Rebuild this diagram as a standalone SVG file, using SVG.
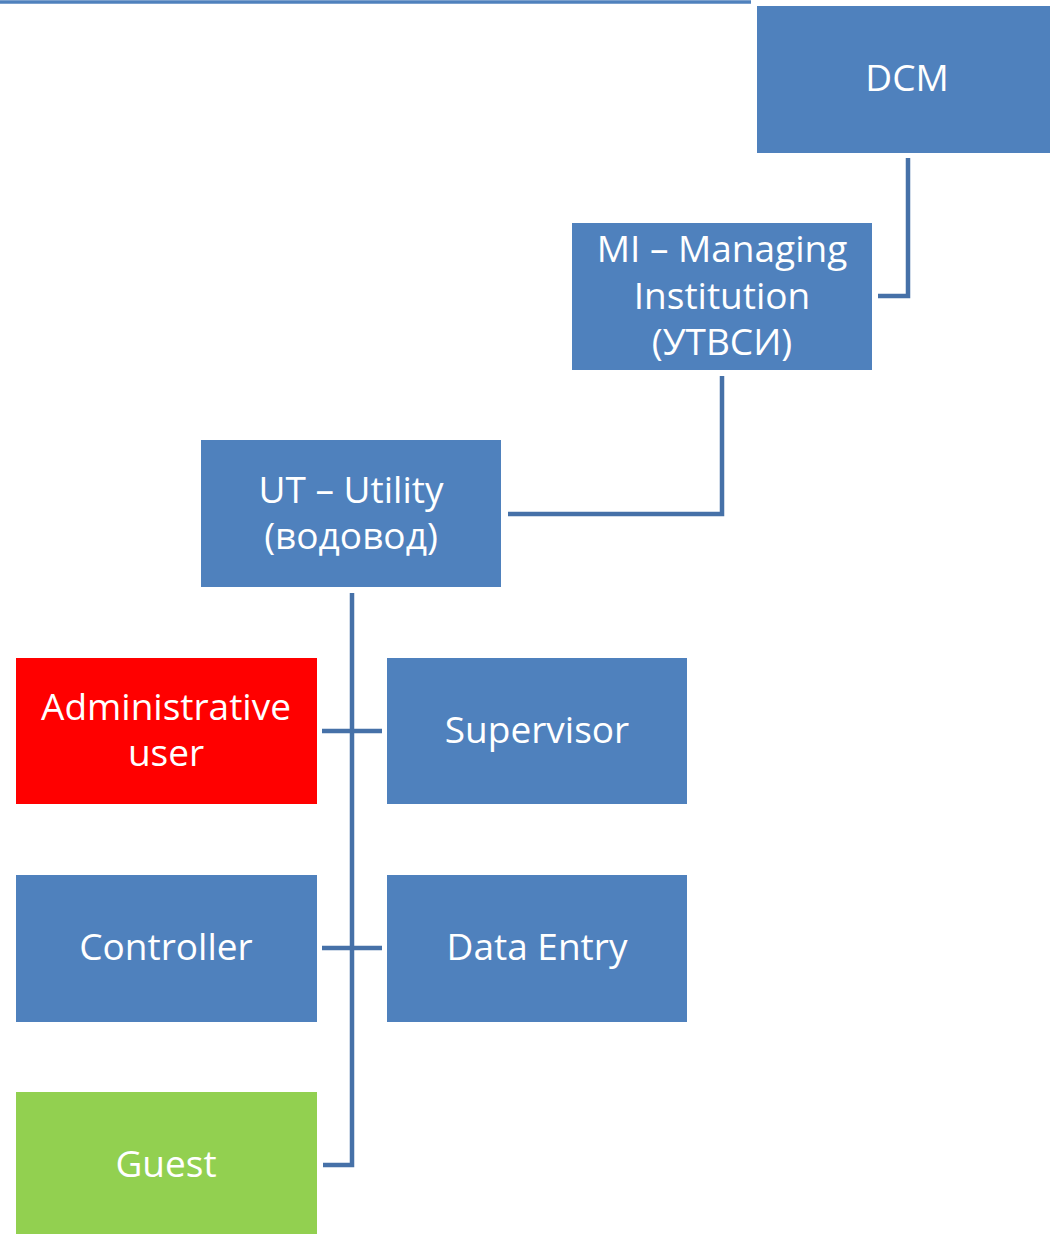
<svg xmlns="http://www.w3.org/2000/svg" width="1050" height="1234" viewBox="0 0 1050 1234">
<style>
.box{fill:#4f81bd}
.red{fill:#ff0000}
.green{fill:#92d050}
.lbl{font-family:"Open Sans","Liberation Sans",sans-serif;font-size:37px;fill:#ffffff;text-anchor:middle}
.conn{fill:none;stroke:#4671a8;stroke-width:4.5;stroke-linejoin:miter}
</style>
<rect width="1050" height="1234" fill="#ffffff"/>
<line x1="0" y1="2" x2="751" y2="2" stroke="#4f81bd" stroke-width="3.5"/>
<g id="connectors">
<polyline class="conn" points="908,158 908,296 878,296"/>
<polyline class="conn" points="722,376 722,514 508,514"/>
<polyline class="conn" points="352,593 352,1165 323,1165"/>
<line class="conn" x1="322" y1="731" x2="382" y2="731"/>
<line class="conn" x1="322" y1="948" x2="382" y2="948"/>
</g>
<g id="dcm">
<rect class="box" x="757" y="6" width="293" height="147"/>
<text class="lbl" x="907" y="91">DCM</text>
</g>
<g id="mi">
<rect class="box" x="572" y="223" width="300" height="147"/>
<text class="lbl" x="722" y="262">MI – Managing</text>
<text class="lbl" x="722" y="309">Institution</text>
<text class="lbl" x="722" y="355">(УТВСИ)</text>
</g>
<g id="ut">
<rect class="box" x="201" y="440" width="300" height="147"/>
<text class="lbl" x="351" y="503">UT – Utility</text>
<text class="lbl" x="351" y="549">(водовод)</text>
</g>
<g id="admin">
<rect class="red" x="16" y="658" width="301" height="146"/>
<text class="lbl" x="166" y="720">Administrative</text>
<text class="lbl" x="166" y="766">user</text>
</g>
<g id="supervisor">
<rect class="box" x="387" y="658" width="300" height="146"/>
<text class="lbl" x="537" y="743">Supervisor</text>
</g>
<g id="controller">
<rect class="box" x="16" y="875" width="301" height="147"/>
<text class="lbl" x="166" y="960">Controller</text>
</g>
<g id="dataentry">
<rect class="box" x="387" y="875" width="300" height="147"/>
<text class="lbl" x="537" y="960">Data Entry</text>
</g>
<g id="guest">
<rect class="green" x="16" y="1092" width="301" height="142"/>
<text class="lbl" x="166" y="1177">Guest</text>
</g>
</svg>
